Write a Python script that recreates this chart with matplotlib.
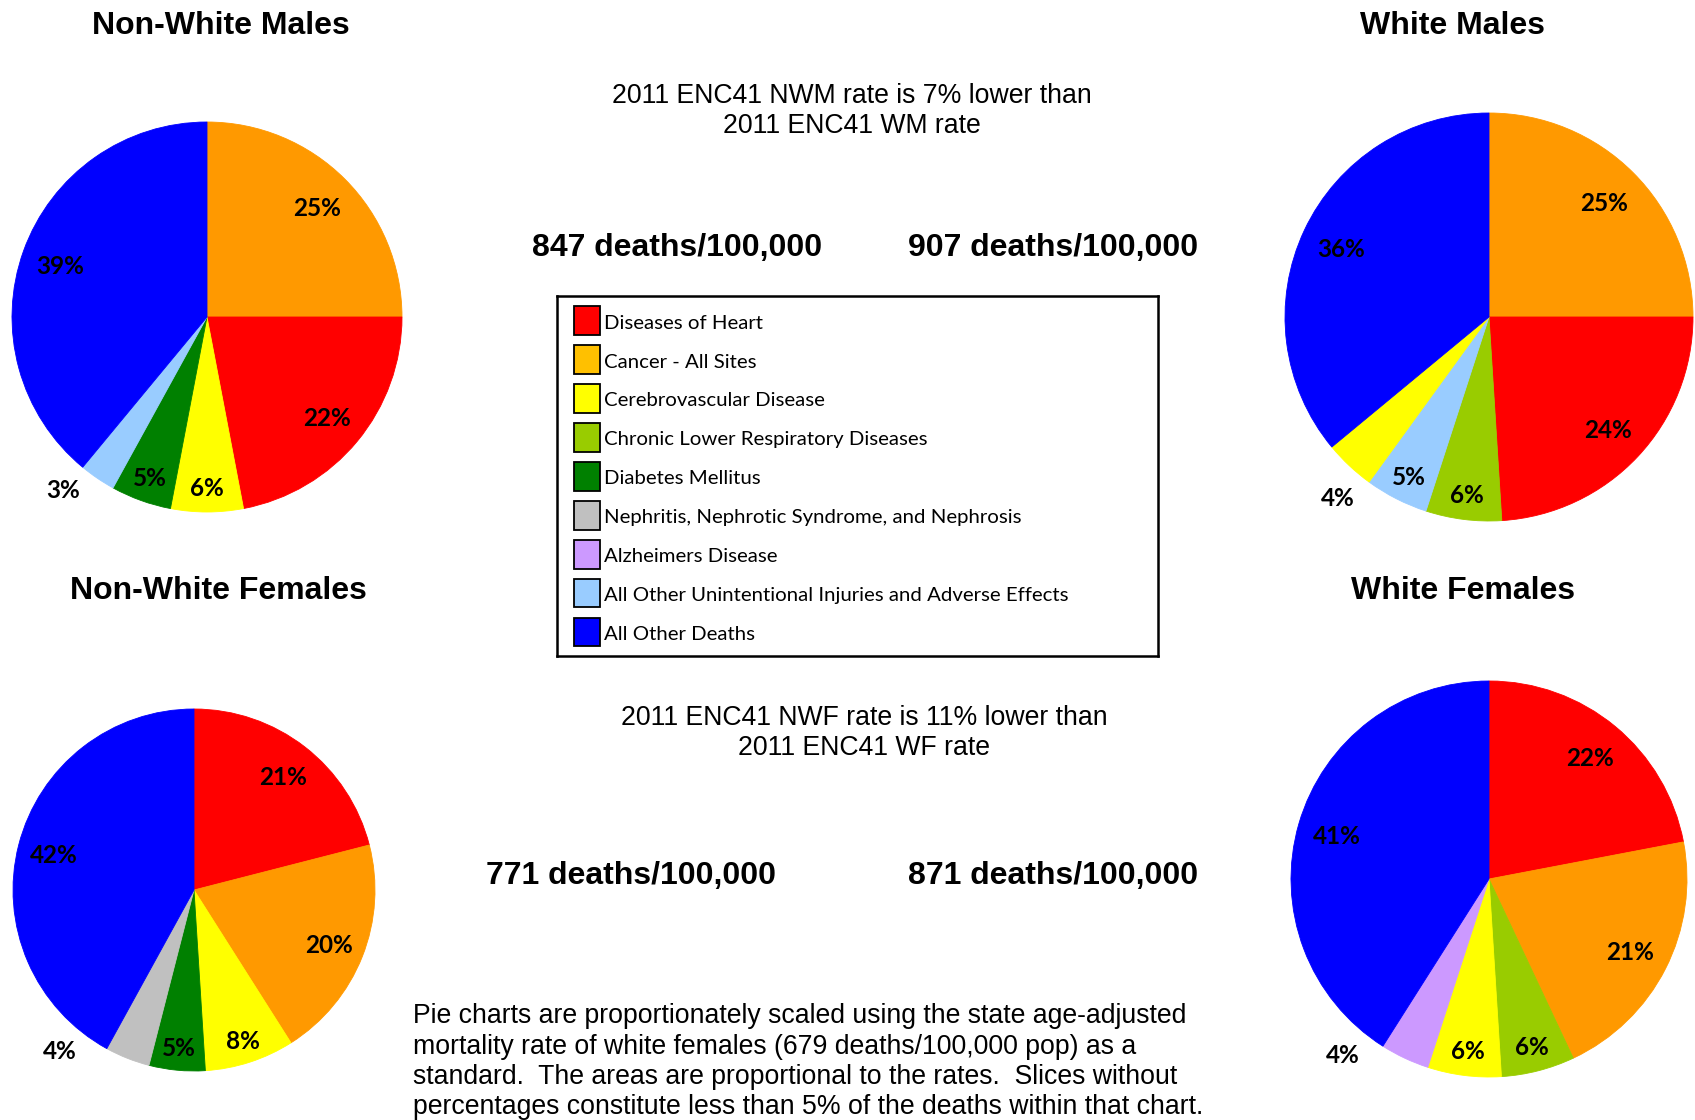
import matplotlib.pyplot as plt
import numpy as np
from matplotlib.patches import Rectangle
from matplotlib import font_manager

# leading causes of death, share of deaths (%) per group, clockwise from 12 o'clock
causes = ["Diseases of Heart", "Cancer - All Sites", "Cerebrovascular Disease",
          "Chronic Lower Respiratory Diseases", "Diabetes Mellitus",
          "Nephritis, Nephrotic Syndrome, and Nephrosis", "Alzheimers Disease",
          "All Other Unintentional Injuries and Adverse Effects", "All Other Deaths"]

nwm_causes = ["Cancer - All Sites", "Diseases of Heart", "Cerebrovascular Disease",
              "Diabetes Mellitus", "All Other Unintentional Injuries and Adverse Effects",
              "All Other Deaths"]
nwm_pct = [25, 22, 6, 5, 3, 39]

wm_causes = ["Cancer - All Sites", "Diseases of Heart", "Chronic Lower Respiratory Diseases",
             "All Other Unintentional Injuries and Adverse Effects", "Cerebrovascular Disease",
             "All Other Deaths"]
wm_pct = [25, 24, 6, 5, 4, 36]

nwf_causes = ["Diseases of Heart", "Cancer - All Sites", "Cerebrovascular Disease",
              "Diabetes Mellitus", "Nephritis, Nephrotic Syndrome, and Nephrosis",
              "All Other Deaths"]
nwf_pct = [21, 20, 8, 5, 4, 42]

wf_causes = ["Diseases of Heart", "Cancer - All Sites", "Chronic Lower Respiratory Diseases",
             "Cerebrovascular Disease", "Alzheimers Disease", "All Other Deaths"]
wf_pct = [22, 21, 6, 6, 4, 41]

groups = ["Non-White Males", "White Males", "Non-White Females", "White Females"]
rates = [847, 907, 771, 871]   # age-adjusted deaths/100,000

compare_m = ["2011 ENC41 NWM rate is 7% lower than", "2011 ENC41 WM rate"]
compare_f = ["2011 ENC41 NWF rate is 11% lower than", "2011 ENC41 WF rate"]
note = ["Pie charts are proportionately scaled using the state age-adjusted",
        "mortality rate of white females (679 deaths/100,000 pop) as a",
        "standard.  The areas are proportional to the rates.  Slices without",
        "percentages constitute less than 5% of the deaths within that chart."]

pie_colors = {"Diseases of Heart": "#FF0000", "Cancer - All Sites": "#FF9900",
              "Cerebrovascular Disease": "#FFFF00",
              "Chronic Lower Respiratory Diseases": "#99CC00",
              "Diabetes Mellitus": "#008000",
              "Nephritis, Nephrotic Syndrome, and Nephrosis": "#C0C0C0",
              "Alzheimers Disease": "#CC99FF",
              "All Other Unintentional Injuries and Adverse Effects": "#99CCFF",
              "All Other Deaths": "#0000FF"}
legend_colors = dict(pie_colors)
legend_colors["Cancer - All Sites"] = "#FFC000"

W, H = 1695, 1120
fig = plt.figure(figsize=(W / 100, H / 100), dpi=100)

def fx(x):
    return x / W

def fy(y):
    return 1 - y / H

def draw_pie(cx, cy, r, names, pct):
    ax = fig.add_axes([(cx - r) / W, (H - cy - r) / H, 2 * r / W, 2 * r / H])
    wedges, _ = ax.pie(pct, colors=[pie_colors[n] for n in names], startangle=90,
                       counterclock=False, radius=1, wedgeprops=dict(linewidth=0.6))
    for w, p in zip(wedges, pct):
        w.set_edgecolor(w.get_facecolor())
        mid = np.deg2rad((w.theta1 + w.theta2) / 2)
        if p < 5:
            # small slices get their label outside, lower left
            mid, d = np.deg2rad(-130), 1.15
        elif p < 10:
            d = 0.87
        else:
            d = 0.80
        ax.text(d * np.cos(mid), d * np.sin(mid) - 0.01, f"{p}%", ha="center",
                va="center", fontsize=17.5, fontweight="bold", family="Lato")
    ax.set_xlim(-1, 1)
    ax.set_ylim(-1, 1)
    ax.set_aspect("equal")
    ax.axis("off")

draw_pie(207, 317, 195, nwm_causes, nwm_pct)
draw_pie(1489, 317, 204, wm_causes, wm_pct)
draw_pie(194, 890, 181, nwf_causes, nwf_pct)
draw_pie(1489, 879, 198, wf_causes, wf_pct)

# titles
title_pos = [(221, 34), (1453, 34), (218, 599), (1463, 599)]
for g, (x, y) in zip(groups, title_pos):
    fig.text(fx(x), fy(y), g, ha="center", va="baseline", fontsize=23,
             fontweight="bold", family="Liberation Sans")

# comparison text
for i, line in enumerate(compare_m):
    fig.text(fx(852), fy(103 + 30 * i), line, ha="center", va="baseline",
             fontsize=19.2, family="Liberation Sans")
for i, line in enumerate(compare_f):
    fig.text(fx(864), fy(725 + 30 * i), line, ha="center", va="baseline",
             fontsize=19.2, family="Liberation Sans")

# rates
names = {f.name for f in font_manager.fontManager.ttflist}
if "Liberation Sans Narrow" in names:
    rate_font, rate_size = "Liberation Sans Narrow", 26
else:
    rate_font, rate_size = "Liberation Sans", 23
rate_pos = [(677, 256), (1053, 256), (631, 884), (1053, 884)]
for rate, (x, y) in zip(rates, rate_pos):
    fig.text(fx(x), fy(y), f"{rate} deaths/100,000", ha="center", va="baseline",
             fontsize=rate_size, fontweight="bold", family=rate_font)

# note
for i, line in enumerate(note):
    fig.text(fx(413), fy(1023 + 30.5 * i), line, ha="left", va="baseline",
             fontsize=19.15, family="Liberation Sans")

# legend box
lx0, ly0, lx1, ly1 = 557, 296, 1158, 656
lax = fig.add_axes([fx(lx0), fy(ly1), (lx1 - lx0) / W, (ly1 - ly0) / H])
lax.set_xlim(0, lx1 - lx0)
lax.set_ylim(len(causes) - 1 + 0.62, -0.64)
for i, c in enumerate(causes):
    lax.add_patch(Rectangle((17, i - 0.37), 26, 0.74, facecolor=legend_colors[c],
                            edgecolor="black", linewidth=1.3))
    lax.text(47, i + 0.06, c, ha="left", va="center", fontsize=14.7, family="Lato")
lax.set_xticks([])
lax.set_yticks([])
for s in lax.spines.values():
    s.set_linewidth(1.8)
    s.set_color("black")

fig.savefig("out.png", dpi=100)
